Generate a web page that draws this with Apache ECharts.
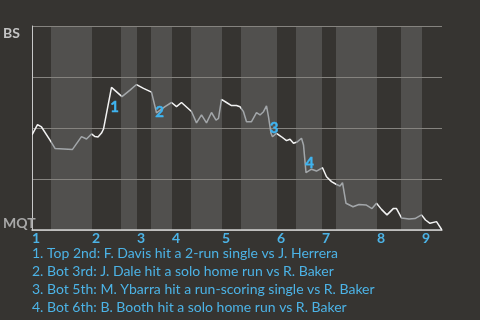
<!DOCTYPE html>
<html><head><meta charset="utf-8">
<script src="https://cdn.jsdelivr.net/npm/echarts@6/dist/echarts.min.js"></script>
<style>html,body{margin:0;padding:0;background:#363431}#c{width:480px;height:320px}</style>
</head><body><div id="c"></div>
<script>
// Half-inning boundaries in play units (top halves start at even indices)
const halfBounds = [0, 3.8, 12, 17.8, 21, 23.8, 28, 31.8, 38, 41.8, 49, 52.8, 58, 60.8, 69, 73.8, 78, 82];
const inningLabels = ['1','2','3','4','5','6','7','8','9'];
const teamTop = 'BS';
const teamBottom = 'MQT';
// Win probability line (x = play progress, y = BS win probability)
const playX = [0,1.1,1.9,3.6,4.6,5.0,8.1,9.9,10.9,11.9,12.6,13.2,13.9,14.3,15.9,18.0,19.6,20.9,22.3,23.9,24.3,24.9,26.6,27.9,28.9,29.9,31.9,32.9,33.9,34.9,35.9,36.8,37.3,37.9,38.9,39.9,40.9,41.6,42.3,42.9,43.9,44.9,45.6,46.3,46.9,47.3,47.8,48.1,48.9,49.9,50.9,51.6,52.3,53.0,53.9,54.3,54.8,55.9,56.9,58.1,58.9,59.9,60.9,61.6,62.1,62.8,64.2,65.4,66.8,68.0,68.9,69.9,71.0,72.3,72.9,73.9,75.4,76.6,77.9,78.7,79.6,80.9,82];
const winProb = [0.466,0.517,0.505,0.441,0.400,0.395,0.395,0.458,0.446,0.471,0.458,0.456,0.475,0.495,0.699,0.654,0.686,0.713,0.694,0.676,0.669,0.574,0.605,0.625,0.605,0.625,0.581,0.525,0.564,0.525,0.576,0.539,0.547,0.640,0.625,0.610,0.610,0.604,0.580,0.531,0.531,0.575,0.564,0.580,0.608,0.555,0.474,0.457,0.474,0.457,0.438,0.445,0.425,0.431,0.450,0.417,0.281,0.298,0.289,0.305,0.261,0.237,0.223,0.216,0.232,0.131,0.114,0.125,0.123,0.105,0.131,0.101,0.074,0.106,0.105,0.059,0.054,0.056,0.074,0.049,0.033,0.041,0];
// Key-play annotations
const annoX = [16.5, 25.5, 48.4, 55.5];
const annoY = [0.603, 0.578, 0.497, 0.327];
const annoText = [
  '1. Top 2nd: F. Davis hit a 2-run single vs J. Herrera',
  '2. Bot 3rd: J. Dale hit a solo home run vs R. Baker',
  '3. Bot 5th: M. Ybarra hit a run-scoring single vs R. Baker',
  '4. Bot 6th: B. Booth hit a solo home run vs R. Baker'
];

const BLUE = '#4cb3e6';
const FONT = 'Lato';
const inningStarts = halfBounds.filter((v, i) => i % 2 === 0 && i < halfBounds.length - 1);
const bands = [];
for (let i = 1; i < halfBounds.length - 1; i += 2) bands.push([halfBounds[i], halfBounds[i + 1]]);
const pieces = [];
for (let i = 0; i < halfBounds.length - 1; i++) {
  const p = { gte: halfBounds[i], color: i % 2 === 0 ? '#f2f2f2' : '#a2a6a9' };
  if (i < halfBounds.length - 2) p.lt = halfBounds[i + 1]; else p.lte = halfBounds[i + 1];
  pieces.push(p);
}

const chart = echarts.init(document.getElementById('c'), null, { renderer: 'canvas' });
chart.setOption({
  backgroundColor: '#363431',
  animation: false,
  title: {
    text: annoText.join('\n'),
    left: 32, top: 244, padding: 0,
    textStyle: { color: BLUE, fontFamily: FONT, fontSize: 14, fontWeight: 'normal', lineHeight: 18 }
  },
  grid: { left: 32, right: 38, top: 26, bottom: 90 },
  xAxis: {
    type: 'value', min: 0, max: halfBounds[halfBounds.length - 1], z: 1.5,
    axisLine: { show: true, lineStyle: { color: '#d2d2d2', width: 1.5 } },
    axisTick: { show: false },
    splitLine: { show: false },
    axisLabel: {
      customValues: inningStarts,
      formatter: v => inningLabels[inningStarts.indexOf(v)] || '',
      align: 'left', margin: 1,
      color: BLUE, fontFamily: FONT, fontSize: 14, fontWeight: 'bold'
    }
  },
  yAxis: {
    type: 'value', min: 0, max: 1, interval: 0.25, z: 1.5,
    axisLine: { show: true, lineStyle: { color: '#c8c8c8', width: 1 } },
    axisTick: { show: false },
    splitLine: { show: true, lineStyle: { color: '#85837f', width: 1 } },
    axisLabel: {
      align: 'left', margin: 29,
      formatter: v => v === 1 ? '{t|' + teamTop + '}' : (v === 0 ? '{b|' + teamBottom + '}' : ''),
      rich: {
        t: { padding: [14, 0, 0, 0], color: '#c4c4c4', fontFamily: FONT, fontSize: 14, fontWeight: 'bold' },
        b: { padding: [0, 0, 14, 0], color: '#a8a8a8', fontFamily: FONT, fontSize: 14, fontWeight: 'bold' }
      }
    }
  },
  visualMap: { show: false, type: 'piecewise', seriesIndex: 1, dimension: 0, pieces: pieces },
  series: [
    {
      type: 'custom', z: 1, silent: true,
      data: bands,
      renderItem: (params, api) => {
        const p0 = api.coord([api.value(0), 1]);
        const p1 = api.coord([api.value(1), 0]);
        return { type: 'rect', shape: { x: p0[0], y: p0[1], width: p1[0] - p0[0], height: p1[1] - p0[1] }, style: { fill: '#51504e' } };
      }
    },
    {
      type: 'line', z: 3, symbol: 'none',
      data: playX.map((x, i) => [x, winProb[i]]),
      lineStyle: { width: 1.5 }
    },
    {
      type: 'custom', z: 4, silent: true,
      data: annoX.map((x, i) => [x, annoY[i]]),
      renderItem: (params, api) => {
        const p = api.coord([api.value(0), api.value(1)]);
        return {
          type: 'text', x: p[0], y: p[1],
          style: { text: String(params.dataIndex + 1), fill: '#3fb4f0', align: 'center', verticalAlign: 'middle',
                   font: 'bold 15px ' + FONT, stroke: '#3fb4f0', lineWidth: 0.4 }
        };
      }
    }
  ]
});
</script></body></html>
